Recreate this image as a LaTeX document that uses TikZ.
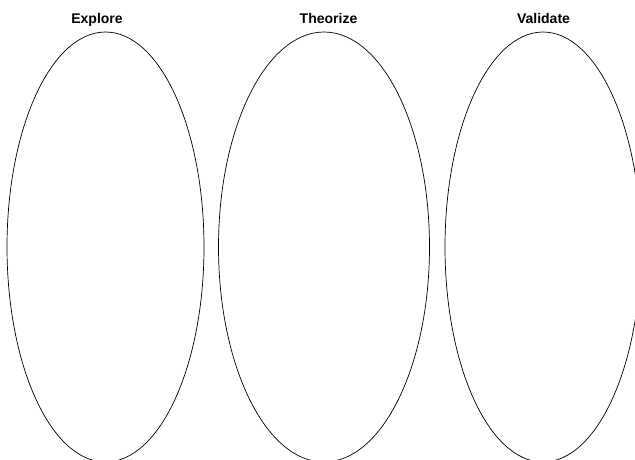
\documentclass[tikz,border=0pt]{standalone}
\usepackage{fontspec}
\setmainfont{Liberation Sans}
\usetikzlibrary{shapes.geometric}
\tikzset{
  phase/.style={ellipse, draw=black, line width=0.7pt, inner sep=0pt, minimum height=430pt},
  title/.style={anchor=base, font=\bfseries\fontsize{14pt}{16pt}\selectfont, inner sep=0pt}
}
\begin{document}
\begin{tikzpicture}[x=1pt, y=-1pt]
  \useasboundingbox (0,0) rectangle (635,459);
  \clip (0,0) rectangle (635,459);
  % phase outlines
  \node[phase, minimum width=197pt] (explore) at (105.5,247) {};
  \node[phase, minimum width=211pt] (theorize) at (324,247) {};
  \node[phase, minimum width=196pt] (validate) at (543,247) {};
  % phase titles
  \node[title] (texplore) at (97,23.5) {Explore};
  \node[title] (ttheorize) at (328.5,23.5) {Theorize};
  \node[title] (tvalidate) at (543.5,23.5) {Validate};
\end{tikzpicture}
\end{document}
